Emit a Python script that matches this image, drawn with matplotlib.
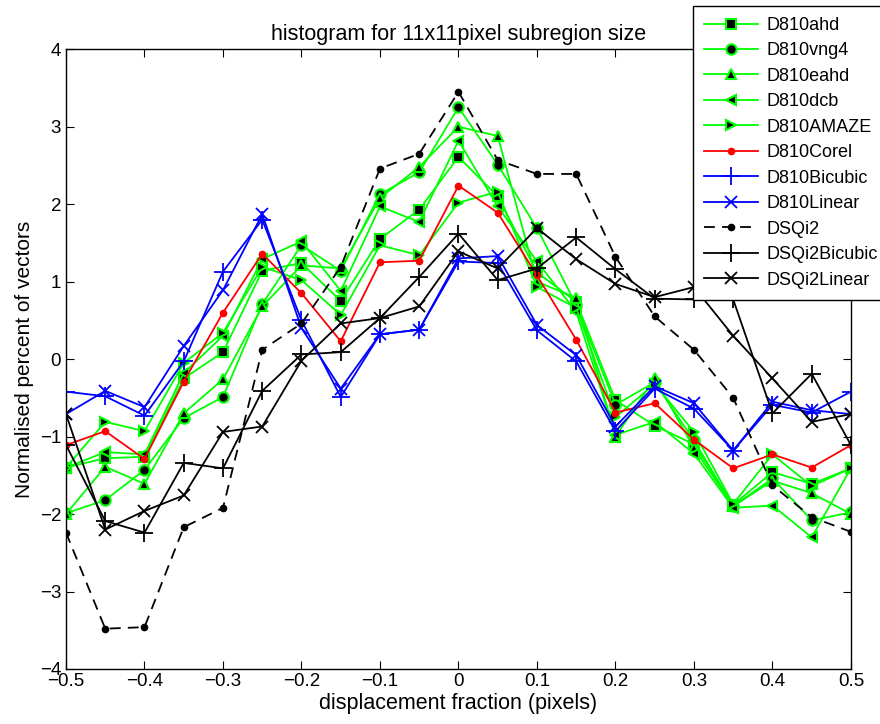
import matplotlib
matplotlib.use("Agg")
import matplotlib.pyplot as plt

# displacement fraction (x axis)
x = [-0.5, -0.45, -0.4, -0.35, -0.3, -0.25, -0.2, -0.15, -0.1, -0.05, 0.0,
     0.05, 0.1, 0.15, 0.2, 0.25, 0.3, 0.35, 0.4, 0.45, 0.5]

d810ahd = [-1.40, -1.28, -1.26, -0.25, 0.09, 1.14, 1.24, 0.75, 1.55, 1.93, 2.61,
           2.10, 1.12, 0.74, -0.53, -0.86, -1.10, -1.88, -1.46, -1.61, -1.41]
d810vng4 = [-1.99, -1.82, -1.43, -0.76, -0.49, 0.71, 1.47, 1.14, 2.13, 2.41, 3.25,
            2.51, 1.69, 0.70, -0.59, -0.30, -1.05, -1.90, -1.54, -2.08, -1.98]
d810eahd = [-2.00, -1.39, -1.61, -0.70, -0.26, 0.68, 1.21, 1.17, 2.08, 2.48, 3.00,
            2.88, 1.00, 0.79, -1.00, -0.25, -1.15, -1.90, -1.57, -1.73, -2.00]
d810dcb = [-1.40, -1.20, -1.23, -0.18, 0.30, 1.29, 1.52, 0.88, 1.97, 1.77, 2.82,
           1.97, 1.26, 0.61, -0.98, -0.81, -1.22, -1.92, -1.89, -2.30, -1.41]
d810amaze = [-1.40, -0.81, -0.93, -0.05, 0.34, 1.19, 1.02, 0.57, 1.47, 1.34, 2.02,
             2.16, 0.93, 0.66, -0.75, -0.32, -0.94, -1.87, -1.23, -1.64, -1.41]
d810corel = [-1.11, -0.93, -1.29, -0.29, 0.60, 1.36, 0.85, 0.23, 1.25, 1.27, 2.24,
             1.89, 1.08, 0.25, -0.69, -0.57, -1.04, -1.41, -1.23, -1.40, -1.11]
d810bicubic = [-0.42, -0.48, -0.73, -0.03, 1.13, 1.80, 0.50, -0.49, 0.32, 0.38, 1.26,
               1.24, 0.37, -0.03, -0.93, -0.38, -0.64, -1.18, -0.59, -0.69, -0.42]
d810linear = [-0.71, -0.41, -0.62, 0.17, 0.89, 1.87, 0.40, -0.38, 0.32, 0.38, 1.30,
              1.33, 0.44, 0.05, -0.87, -0.35, -0.57, -1.18, -0.55, -0.66, -0.71]
dsqi2 = [-2.24, -3.48, -3.46, -2.17, -1.92, 0.12, 0.46, 1.19, 2.46, 2.65, 3.45,
         2.57, 2.39, 2.39, 1.32, 0.55, 0.12, -0.50, -1.63, -2.04, -2.23]
dsqi2bicubic = [-1.11, -2.09, -2.24, -1.34, -1.41, -0.41, 0.06, 0.09, 0.53, 1.06, 1.62,
                1.02, 1.17, 1.57, 1.16, 0.78, 0.77, 0.77, -0.70, -0.19, -1.11]
dsqi2linear = [-0.71, -2.20, -1.96, -1.76, -0.94, -0.87, -0.02, 0.46, 0.53, 0.68, 1.39,
               1.17, 1.69, 1.29, 0.97, 0.80, 0.93, 0.30, -0.25, -0.81, -0.71]

x_ticks = [-0.5, -0.4, -0.3, -0.2, -0.1, 0, 0.1, 0.2, 0.3, 0.4, 0.5]
x_tick_labels = ["\u22120.5", "\u22120.4", "\u22120.3", "\u22120.2", "\u22120.1", "0",
                 "0.1", "0.2", "0.3", "0.4", "0.5"]
y_ticks = [-4, -3, -2, -1, 0, 1, 2, 3, 4]


def main():
    """Plot the subregion histogram and save it as out.png"""
    plt.rcParams["font.family"] = ["Liberation Sans", "DejaVu Sans"]

    fig = plt.figure(figsize=(8.8, 7.24), dpi=100)
    ax = fig.add_axes([0.075, 0.076, 0.892, 0.856])

    green = (0, 1, 0)
    lw = 1.3
    green_kw = dict(color=green, lw=lw, markerfacecolor="black",
                    markeredgecolor=green, markeredgewidth=1.5)
    ax.plot(x, d810ahd, marker="s", markersize=7, label="D810ahd", **green_kw)
    ax.plot(x, d810vng4, marker="o", markersize=7.5, label="D810vng4", **green_kw)
    ax.plot(x, d810eahd, marker="^", markersize=7.5, label="D810eahd", **green_kw)
    ax.plot(x, d810dcb, marker="<", markersize=7.5, label="D810dcb", **green_kw)
    ax.plot(x, d810amaze, marker=">", markersize=7.5, label="D810AMAZE", **green_kw)
    ax.plot(x, d810corel, color="red", lw=lw, marker="o", markersize=4.5,
            label="D810Corel")
    ax.plot(x, d810bicubic, color="blue", lw=lw, marker="+", markersize=13,
            markeredgewidth=1.3, label="D810Bicubic")
    ax.plot(x, d810linear, color="blue", lw=lw, marker="x", markersize=9,
            markeredgewidth=1.3, label="D810Linear")
    ax.plot(x, dsqi2, color="black", lw=lw, linestyle=(0, (6, 4)), marker="o",
            markersize=4.5, label="DSQi2")
    ax.plot(x, dsqi2bicubic, color="black", lw=lw, marker="+", markersize=13,
            markeredgewidth=1.3, label="DSQi2Bicubic")
    ax.plot(x, dsqi2linear, color="black", lw=lw, marker="x", markersize=9,
            markeredgewidth=1.3, label="DSQi2Linear")

    ax.set_xlim(-0.5, 0.5)
    ax.set_ylim(-4, 4)
    ax.set_xticks(x_ticks)
    ax.set_xticklabels(x_tick_labels)
    ax.set_yticks(y_ticks)
    ax.tick_params(direction="in", top=True, right=True, labelsize=13.5,
                   length=6, width=0.8)
    ax.tick_params(axis="x", pad=3)
    for spine in ax.spines.values():
        spine.set_linewidth(1.0)

    ax.set_title("histogram for 11x11pixel subregion size", fontsize=15.5, pad=7)
    ax.set_xlabel("displacement fraction (pixels)", fontsize=15.5, labelpad=2)
    ax.set_ylabel("Normalised percent of vectors", fontsize=15, labelpad=4)

    # legend sits over the top-right corner, right border runs off the figure
    leg = ax.legend(loc="upper right", bbox_to_anchor=(889 / 880, 1 - 6 / 724),
                    bbox_transform=fig.transFigure, fontsize=13, fancybox=False,
                    framealpha=1, edgecolor="black", borderaxespad=0,
                    borderpad=0.6, labelspacing=0.47, handlelength=3.0,
                    handletextpad=0.5)
    leg.get_frame().set_linewidth(1.0)

    fig.savefig("out.png", dpi=100)


if __name__ == "__main__":
    main()
